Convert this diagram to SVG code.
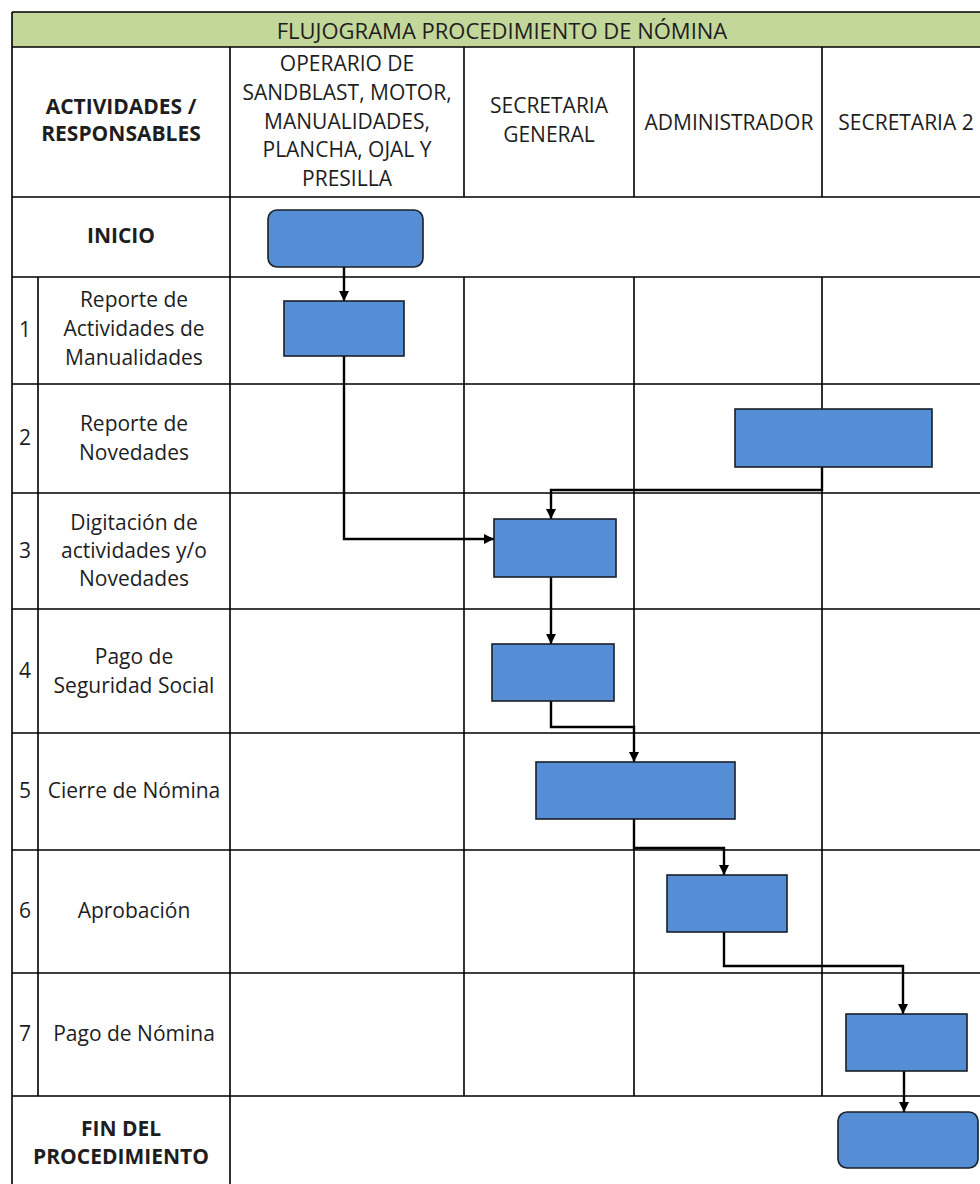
<svg xmlns="http://www.w3.org/2000/svg" width="980" height="1184" viewBox="0 0 980 1184">
<defs>
<style>
.grid{stroke:#000;stroke-width:1.6;fill:none}
.t{font-family:"Open Sans","Liberation Sans",Arial,sans-serif;font-size:21px;fill:#1e1e1e;text-anchor:middle}
.title{font-size:22px}
.b{font-weight:bold}
.box{fill:#558ED5;stroke:#1a1f29;stroke-width:1.6}
.conn{stroke:#000;stroke-width:2.4;fill:none}
</style>
<marker id="arr" markerUnits="userSpaceOnUse" markerWidth="12" markerHeight="12" refX="10" refY="6" orient="auto">
<path d="M0,1 L10,6 L0,11 z" fill="#000"/>
</marker>
</defs>
<rect width="980" height="1184" fill="#fff"/>
<g id="grid">
<rect x="12" y="12" width="990" height="35" fill="#C4D79B"/>
<path class="grid" d="M12,12 H990 M12,47 H990 M12,197 H990 M12,277 H990 M12,384 H990 M12,493 H990 M12,609 H990 M12,733 H990 M12,850 H990 M12,973 H990 M12,1096 H990"/>
<path class="grid" d="M12,12 V1184 M230,47 V1184 M38,277 V1096 M464,47 V197 M634,47 V197 M822,47 V197 M464,277 V1096 M634,277 V1096 M822,277 V1096"/>
</g>
<g id="header">
<text class="t title" x="502" y="39">FLUJOGRAMA PROCEDIMIENTO DE NÓMINA</text>
<text class="t b" x="121" y="114">ACTIVIDADES /</text>
<text class="t b" x="121" y="141">RESPONSABLES</text>
<text class="t" x="347" y="71">OPERARIO DE</text>
<text class="t" x="347" y="100">SANDBLAST, MOTOR,</text>
<text class="t" x="347" y="129">MANUALIDADES,</text>
<text class="t" x="347" y="157">PLANCHA, OJAL Y</text>
<text class="t" x="347" y="186">PRESILLA</text>
<text class="t" x="549" y="113">SECRETARIA</text>
<text class="t" x="549" y="142">GENERAL</text>
<text class="t" x="729" y="130">ADMINISTRADOR</text>
<text class="t" x="906" y="130">SECRETARIA 2</text>
</g>
<g id="rows">
<text class="t b" x="121" y="243">INICIO</text>
<text class="t" x="25" y="337">1</text>
<text class="t" x="134" y="307">Reporte de</text>
<text class="t" x="134" y="336">Actividades de</text>
<text class="t" x="134" y="365">Manualidades</text>
<text class="t" x="25" y="445">2</text>
<text class="t" x="134" y="431">Reporte de</text>
<text class="t" x="134" y="460">Novedades</text>
<text class="t" x="25" y="558">3</text>
<text class="t" x="134" y="530">Digitación de</text>
<text class="t" x="134" y="558">actividades y/o</text>
<text class="t" x="134" y="586">Novedades</text>
<text class="t" x="25" y="678">4</text>
<text class="t" x="134" y="664">Pago de</text>
<text class="t" x="134" y="693">Seguridad Social</text>
<text class="t" x="25" y="798">5</text>
<text class="t" x="134" y="798">Cierre de Nómina</text>
<text class="t" x="25" y="918">6</text>
<text class="t" x="134" y="918">Aprobación</text>
<text class="t" x="25" y="1041">7</text>
<text class="t" x="134" y="1041">Pago de Nómina</text>
<text class="t b" x="121" y="1136">FIN DEL</text>
<text class="t b" x="121" y="1164">PROCEDIMIENTO</text>
</g>
<g id="connectors">
<path class="conn" d="M344,267 V301" marker-end="url(#arr)"/>
<path class="conn" d="M344,356 V539 H494" marker-end="url(#arr)"/>
<path class="conn" d="M822,467 V490 H551 V519" marker-end="url(#arr)"/>
<path class="conn" d="M551,577 V644" marker-end="url(#arr)"/>
<path class="conn" d="M551,701 V727 H634 V762" marker-end="url(#arr)"/>
<path class="conn" d="M634,819 V848 H724 V875" marker-end="url(#arr)"/>
<path class="conn" d="M724,932 V966 H903 V1014" marker-end="url(#arr)"/>
<path class="conn" d="M904,1071 V1112" marker-end="url(#arr)"/>
</g>
<g id="n-inicio"><rect class="box" x="268" y="210" width="155" height="57" rx="9"/></g>
<g id="n-1"><rect class="box" x="284" y="301" width="120" height="55"/></g>
<g id="n-2"><rect class="box" x="735" y="409" width="197" height="58"/></g>
<g id="n-3"><rect class="box" x="494" y="519" width="122" height="58"/></g>
<g id="n-4"><rect class="box" x="492" y="644" width="122" height="57"/></g>
<g id="n-5"><rect class="box" x="536" y="762" width="199" height="57"/></g>
<g id="n-6"><rect class="box" x="667" y="875" width="120" height="57"/></g>
<g id="n-7"><rect class="box" x="846" y="1014" width="121" height="57"/></g>
<g id="n-fin"><rect class="box" x="838" y="1112" width="140" height="56" rx="9"/></g>
</svg>
